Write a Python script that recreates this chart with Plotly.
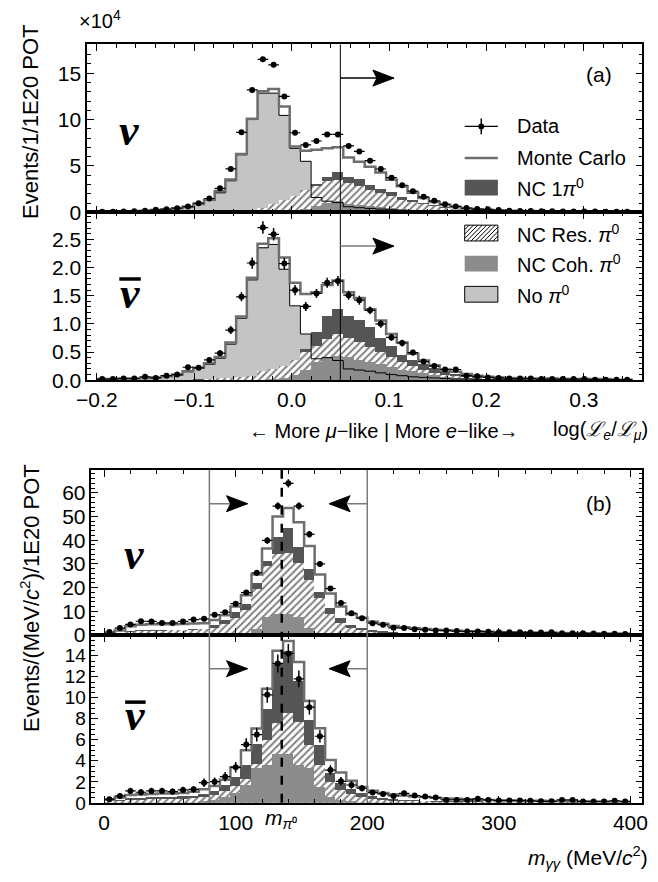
import numpy as np
import plotly.graph_objects as go

W, H = 658, 882
FONT = "Liberation Sans, Arial, sans-serif"
SERIF = "Liberation Serif, Times New Roman, serif"

# ---------------- binning ----------------
A_LO, A_HI, A_NBINS = -0.2, 0.35, 50      # log(Le/Lmu)
B_LO, B_HI, B_NBINS = 0.0, 400.0, 50      # m_gg (MeV/c^2)

# ---------------- panel (a) : neutrino (units of 1e4) ----------------
a_nu_data = [0.05,0.07,0.09,0.12,0.18,0.27,0.33,0.45,0.62,0.99,
             1.49,2.59,4.68,8.62,13.2,16.5,15.9,12.5,8.58,7.27,
             7.69,8.4,8.4,7.16,6.56,5.57,4.67,3.74,2.92,2.28,
             1.67,1.24,0.88,0.64,0.46,0.35,0.32,0.25,0.18,0.15,
             0.14,0.12,0.11,0.1,0.1,0.09,0.08,0.07,0.07,0.06]
a_nu_err = [0.01,0.01,0.01,0.01,0.02,0.02,0.02,0.02,0.03,0.03,
            0.04,0.05,0.06,0.08,0.1,0.11,0.11,0.1,0.08,0.08,
            0.08,0.08,0.08,0.08,0.07,0.07,0.06,0.06,0.05,0.05,
            0.04,0.04,0.03,0.03,0.02,0.02,0.02,0.02,0.02,0.01,
            0.01,0.01,0.01,0.01,0.01,0.01,0.01,0.01,0.01,0.01]
a_nu_mc = [0.05,0.07,0.09,0.12,0.18,0.26,0.34,0.45,0.6,0.9,
           1.35,2.3,3.55,6.28,10.1,13.05,13.3,11.4,7.09,6.63,
           6.74,6.9,7.02,5.9,5.45,4.9,4.3,3.5,2.8,2.12,
           1.55,1.1,0.8,0.58,0.42,0.32,0.26,0.2,0.17,0.15,
           0.13,0.12,0.11,0.1,0.1,0.09,0.08,0.07,0.07,0.06]
a_nu_nopi0 = [0.05,0.07,0.09,0.12,0.17,0.25,0.32,0.42,0.55,0.85,
              1.3,2.1,3.4,6.2,10.0,12.85,12.85,10.45,6.9,5.5,
              1.6,1.2,1.05,0.6,0.5,0.42,0.35,0.28,0.22,0.17,
              0.13,0.1,0.08,0.06,0.05,0.04,0.03,0.03,0.02,0.02,
              0.02,0.02,0.01,0.01,0.01,0.01,0.01,0.01,0.01,0.01]
a_nu_nc1pi0 = [0,0,0,0,0,0,0,0.01,0.02,0.03,
               0.05,0.07,0.1,0.13,0.18,0.25,0.53,0.89,1.31,2.13,
               3.01,3.8,4.3,3.8,3.55,2.9,2.5,2.1,1.63,1.24,
               0.96,0.71,0.53,0.36,0.25,0.18,0.12,0.08,0.06,0.05,
               0.04,0.03,0.02,0.02,0.01,0.01,0.01,0.01,0.01,0.01]
a_nu_ncres = [0,0,0,0,0,0,0,0,0.01,0.02,
              0.03,0.05,0.08,0.18,0.25,0.46,0.89,1.24,1.67,2.38,
              2.84,3.3,3.44,3.1,2.75,2.35,2.0,1.68,1.3,1.03,
              0.85,0.6,0.43,0.28,0.18,0.12,0.08,0.06,0.04,0.03,
              0.02,0.02,0.01,0.01,0.01,0,0,0,0,0]
a_nu_nccoh = [0,0,0,0,0,0,0,0,0,0,
              0,0,0,0,0,0,0,0.05,0.1,0.3,
              0.6,1.0,1.2,0.9,0.75,0.6,0.48,0.38,0.3,0.22,
              0.16,0.12,0.08,0.05,0.03,0.02,0.01,0.01,0.01,0,
              0,0,0,0,0,0,0,0,0,0]

# ---------------- panel (a) : antineutrino (units of 1e4) ----------------
a_nb_data = [0.02,0.02,0.03,0.03,0.06,0.04,0.08,0.1,0.23,0.22,
             0.36,0.48,0.89,1.48,2.08,2.71,2.59,2.07,1.6,1.31,
             1.54,1.73,1.76,1.51,1.42,1.24,1.0,0.76,0.66,0.49,
             0.33,0.25,0.19,0.19,0.08,0.07,0.05,0.04,0.03,0.03,
             0.03,0.02,0.02,0.02,0.02,0.02,0.01,0.01,0.01,0.01]
a_nb_err = [0.02,0.02,0.02,0.02,0.02,0.02,0.02,0.02,0.03,0.03,
            0.04,0.05,0.07,0.08,0.1,0.11,0.11,0.1,0.09,0.08,
            0.08,0.09,0.09,0.08,0.08,0.07,0.07,0.06,0.06,0.05,
            0.04,0.04,0.03,0.03,0.02,0.02,0.02,0.02,0.02,0.02,
            0.02,0.02,0.02,0.02,0.02,0.02,0.01,0.01,0.01,0.01]
a_nb_mc = [0.02,0.02,0.03,0.03,0.04,0.05,0.07,0.1,0.16,0.22,
           0.3,0.41,0.67,1.13,1.82,2.42,2.52,2.18,1.73,1.53,
           1.56,1.69,1.77,1.56,1.46,1.26,1.06,0.82,0.67,0.47,
           0.35,0.26,0.19,0.15,0.11,0.08,0.06,0.05,0.04,0.04,
           0.03,0.03,0.03,0.02,0.02,0.02,0.02,0.02,0.01,0.01]
a_nb_nopi0 = [0.02,0.02,0.03,0.03,0.04,0.05,0.07,0.09,0.15,0.21,
              0.28,0.39,0.64,1.1,1.78,2.35,2.41,1.97,1.32,0.82,
              0.38,0.4,0.35,0.2,0.18,0.16,0.13,0.1,0.08,0.06,
              0.05,0.04,0.03,0.02,0.02,0.01,0.01,0.01,0.01,0.01,
              0.01,0.01,0.01,0.01,0.01,0.01,0.01,0.01,0.01,0.01]
a_nb_nc1pi0 = [0,0,0,0,0,0,0,0,0,0.01,
               0.01,0.01,0.02,0.02,0.03,0.05,0.1,0.2,0.33,0.55,
               0.85,1.13,1.26,1.14,1.07,0.93,0.75,0.6,0.44,0.35,
               0.28,0.21,0.15,0.11,0.08,0.06,0.04,0.03,0.02,0.02,
               0.01,0.01,0.01,0.01,0.01,0.01,0,0,0,0]
a_nb_ncres = [0,0,0,0,0,0,0,0,0,0,
              0.01,0.02,0.03,0.05,0.07,0.15,0.2,0.25,0.36,0.5,
              0.6,0.73,0.81,0.75,0.68,0.59,0.5,0.41,0.32,0.24,
              0.18,0.13,0.09,0.07,0.05,0.04,0.03,0.02,0.01,0.01,
              0.01,0,0,0,0,0,0,0,0,0]
a_nb_nccoh = [0,0,0,0,0,0,0,0,0,0,
              0,0,0,0,0,0,0.01,0.03,0.08,0.18,
              0.32,0.4,0.42,0.41,0.36,0.32,0.28,0.22,0.18,0.15,
              0.12,0.09,0.06,0.04,0.03,0.02,0.01,0.01,0,0,
              0,0,0,0,0,0,0,0,0,0]

# ---------------- panel (b) : neutrino ----------------
b_nu_data = [1.25,2.9,4.44,5.8,5.7,5.1,5.1,5.7,6.5,6.8,
             8.5,9.6,13.2,17.9,26.25,39.9,54.4,64.0,54.4,42.5,
             30.0,19.6,13.5,9.2,7.1,5.0,4.3,3.0,2.9,2.4,
             2.2,1.9,1.9,1.65,1.5,1.5,1.4,1.1,1.1,1.1,
             1.0,1.0,1.1,0.7,0.7,0.7,0.6,0.5,0.5,0.4]
b_nu_err = [0.3,0.4,0.5,0.55,0.55,0.5,0.5,0.55,0.6,0.6,
            0.65,0.7,0.8,0.95,1.15,1.4,1.6,1.75,1.6,1.45,
            1.2,1.0,0.8,0.65,0.6,0.5,0.45,0.4,0.4,0.35,
            0.35,0.3,0.3,0.3,0.3,0.3,0.25,0.25,0.25,0.25,
            0.25,0.25,0.25,0.2,0.2,0.2,0.2,0.15,0.15,0.15]
b_nu_mc = [0.6,1.9,3.7,4.3,4.5,4.5,4.5,4.6,4.8,5.0,
           6.3,8.3,12.0,16.8,25.5,36.5,50.0,53.6,47.6,37.5,
           25.5,17.5,12.0,8.7,7.3,5.6,4.7,3.8,3.3,2.8,
           2.5,2.2,2.0,1.8,1.6,1.5,1.35,1.25,1.15,1.05,
           1.0,0.95,0.9,0.85,0.8,0.75,0.7,0.65,0.6,0.55]
b_nu_nc1pi0 = [0.4,1.0,1.6,1.9,2.0,2.0,2.1,2.2,2.4,2.6,
               4.0,6.5,9.5,13.0,22.0,31.0,41.5,45.0,37.0,28.0,
               18.0,11.5,7.0,4.2,3.0,2.2,1.6,1.2,0.9,0.7,
               0.6,0.5,0.45,0.4,0.35,0.3,0.28,0.25,0.22,0.2,
               0.18,0.16,0.15,0.14,0.13,0.12,0.11,0.1,0.1,0.1]
b_nu_ncres = [0.4,0.9,1.4,1.7,1.8,1.8,1.9,2.0,2.1,2.3,
              3.0,4.6,7.0,10.5,19.5,29.0,34.0,34.6,30.5,23.0,
              15.5,9.0,5.0,3.0,2.0,1.4,1.0,0.7,0.5,0.4,
              0.3,0.25,0.2,0.15,0.12,0.1,0.08,0.06,0.05,0.05,
              0.04,0.04,0.03,0.03,0.03,0.02,0.02,0.02,0.02,0.02]
b_nu_nccoh = [0,0,0,0,0,0,0,0,0,0,
              0.1,0.2,0.5,1.0,2.7,7.5,9.0,9.0,7.5,3.0,
              1.0,0.5,0.2,0.1,0,0,0,0,0,0,
              0,0,0,0,0,0,0,0,0,0,
              0,0,0,0,0,0,0,0,0,0]

# ---------------- panel (b) : antineutrino ----------------
b_nb_data = [0.35,0.66,1.14,1.01,1.14,1.14,1.07,1.23,1.29,1.92,
             2.02,2.49,3.38,5.55,6.5,10.28,13.27,14.22,11.8,9.11,
             6.34,3.12,2.05,1.7,1.39,0.98,0.85,0.66,0.91,0.7,
             0.6,0.5,0.28,0.28,0.28,0.38,0.28,0.22,0.22,0.22,
             0.19,0.15,0.15,0.28,0.28,0.13,0.13,0.13,0.2,0.13]
b_nb_err = [0.2,0.25,0.3,0.3,0.3,0.3,0.3,0.3,0.3,0.4,
            0.4,0.45,0.5,0.6,0.65,0.75,0.85,0.9,0.8,0.7,
            0.6,0.45,0.4,0.35,0.3,0.25,0.25,0.22,0.25,0.22,
            0.2,0.18,0.15,0.15,0.15,0.16,0.15,0.13,0.13,0.13,
            0.12,0.11,0.11,0.15,0.15,0.1,0.1,0.1,0.12,0.1]
b_nb_mc = [0.3,0.5,0.75,0.8,0.85,0.9,0.9,0.95,1.05,1.3,
           1.6,2.2,3.4,5.0,7.07,10.85,14.47,15.4,13.4,9.7,
           7.1,4.07,2.9,2.1,1.5,1.15,0.95,0.8,0.7,0.6,
           0.55,0.48,0.42,0.38,0.34,0.3,0.28,0.26,0.24,0.22,
           0.2,0.19,0.18,0.17,0.16,0.15,0.14,0.13,0.12,0.11]
b_nb_nc1pi0 = [0.15,0.3,0.45,0.5,0.55,0.55,0.6,0.65,0.7,0.85,
               1.1,1.7,2.5,3.6,5.65,8.96,13.2,14.5,11.6,7.9,
               5.5,2.8,1.9,1.3,0.9,0.65,0.5,0.4,0.32,0.26,
               0.22,0.18,0.15,0.12,0.1,0.09,0.08,0.07,0.06,0.05,
               0.05,0.05,0.04,0.04,0.04,0.04,0.03,0.03,0.03,0.03]
b_nb_ncres = [0.1,0.2,0.3,0.3,0.35,0.35,0.4,0.4,0.45,0.55,
              0.75,1.1,1.6,2.3,3.7,6.0,7.6,8.6,7.7,5.5,
              3.6,2.0,1.2,0.8,0.55,0.4,0.3,0.22,0.17,0.13,
              0.1,0.08,0.07,0.06,0.05,0.04,0.03,0.03,0.02,0.02,
              0.02,0.02,0.02,0.02,0.02,0.01,0.01,0.01,0.01,0.01]
b_nb_nccoh = [0,0,0,0,0,0,0,0,0,0.15,
              0.3,0.6,0.9,1.7,3.3,3.6,4.7,4.7,3.6,3.3,
              1.5,0.6,0.3,0.15,0,0,0,0,0,0,
              0,0,0,0,0,0,0,0,0,0,
              0,0,0,0,0,0,0,0,0,0]

# ---------------- colours ----------------
C_LIGHT = "#c4c4c4"
C_DARK = "#555555"
C_MED = "#8c8c8c"
C_MC = "#6e6e6e"

a_edges = np.linspace(A_LO, A_HI, A_NBINS + 1)
a_cent = 0.5 * (a_edges[:-1] + a_edges[1:])
a_w = (A_HI - A_LO) / A_NBINS
b_edges = np.linspace(B_LO, B_HI, B_NBINS + 1)
b_cent = 0.5 * (b_edges[:-1] + b_edges[1:])
b_w = (B_HI - B_LO) / B_NBINS

fig = go.Figure()


def step_xy(edges, vals):
    return list(edges), list(vals) + [vals[-1]]


def add_panel(xa, ya, edges, cent, w, data, err, mc, nopi0, nc1, ncres, nccoh):
    common = dict(xaxis=xa, yaxis=ya, showlegend=False, hoverinfo="skip")
    if nopi0 is not None:
        fig.add_trace(go.Bar(x=cent, y=nopi0, width=w, opacity=1,
                             marker=dict(color=C_LIGHT, line=dict(width=0)), **common))
    fig.add_trace(go.Bar(x=cent, y=nc1, width=w, opacity=1,
                         marker=dict(color=C_DARK, line=dict(width=0)), **common))
    fig.add_trace(go.Bar(x=cent, y=ncres, width=w, opacity=1,
                         marker=dict(color="white", line=dict(width=0),
                                     pattern=dict(shape="/", fgcolor="black", bgcolor="white",
                                                  size=5, solidity=0.4)), **common))
    fig.add_trace(go.Bar(x=cent, y=nccoh, width=w, opacity=1,
                         marker=dict(color=C_MED, line=dict(width=0)), **common))
    if nopi0 is not None:
        sx, sy = step_xy(edges, nopi0)
        fig.add_trace(go.Scatter(x=sx, y=sy, mode="lines", line=dict(color="black", width=1, shape="hv"),
                                 **common))
    sx, sy = step_xy(edges, mc)
    fig.add_trace(go.Scatter(x=sx, y=sy, mode="lines", line=dict(color=C_MC, width=2.5, shape="hv"),
                             **common))
    fig.add_trace(go.Scatter(x=cent, y=data, mode="markers",
                             marker=dict(color="black", size=6),
                             error_x=dict(type="constant", value=w / 2, width=0, thickness=1.2, color="black"),
                             error_y=dict(type="data", array=err, width=0, thickness=1.5, color="black"),
                             **common))


add_panel("x", "y", a_edges, a_cent, a_w, a_nu_data, a_nu_err, a_nu_mc, a_nu_nopi0,
          a_nu_nc1pi0, a_nu_ncres, a_nu_nccoh)
add_panel("x2", "y2", a_edges, a_cent, a_w, a_nb_data, a_nb_err, a_nb_mc, a_nb_nopi0,
          a_nb_nc1pi0, a_nb_ncres, a_nb_nccoh)
add_panel("x3", "y3", b_edges, b_cent, b_w, b_nu_data, b_nu_err, b_nu_mc, None,
          b_nu_nc1pi0, b_nu_ncres, b_nu_nccoh)
add_panel("x4", "y4", b_edges, b_cent, b_w, b_nb_data, b_nb_err, b_nb_mc, None,
          b_nb_nc1pi0, b_nb_ncres, b_nb_nccoh)


def fx(px):
    return px / W


def fy(py):
    return 1 - py / H


AX = dict(showline=True, linecolor="black", linewidth=1.5, mirror="allticks", ticks="inside",
          ticklen=7, tickwidth=1.2, tickcolor="black", showgrid=False, zeroline=False,
          tickfont=dict(family=FONT, size=21, color="black"))
MINOR = dict(ticks="inside", ticklen=4, tickcolor="black")

a_xdom = [fx(78), fx(647)]
b_xdom = [fx(82.5), fx(647)]
a_xrange = [-0.21, 0.36]
b_xrange = [-9.6, 409]

fig.update_layout(
    width=W, height=H, margin=dict(l=0, r=0, t=0, b=0),
    paper_bgcolor="white", plot_bgcolor="white",
    barmode="overlay", bargap=0, showlegend=False,
    xaxis=dict(AX, domain=a_xdom, range=a_xrange, anchor="y", showticklabels=False,
               dtick=0.1, tick0=0, minor=dict(MINOR, dtick=0.02)),
    yaxis=dict(AX, domain=[fy(215), fy(45)], range=[0, 18.1], anchor="x", dtick=5,
               minor=dict(MINOR, dtick=1)),
    xaxis2=dict(AX, domain=a_xdom, range=a_xrange, anchor="y2", dtick=0.1, tick0=0, tickformat=".1f",
                minor=dict(MINOR, dtick=0.02)),
    yaxis2=dict(AX, domain=[fy(385), fy(215)], range=[0, 2.98], anchor="x2", dtick=0.5, tickformat=".1f",
                minor=dict(MINOR, dtick=0.1)),
    xaxis3=dict(AX, domain=b_xdom, range=b_xrange, anchor="y3", showticklabels=False, dtick=100, tick0=0,
                minor=dict(MINOR, dtick=20)),
    yaxis3=dict(AX, domain=[fy(643), fy(476)], range=[0, 69.6], anchor="x3", dtick=10,
                minor=dict(MINOR, dtick=2)),
    xaxis4=dict(AX, domain=b_xdom, range=b_xrange, anchor="y4", dtick=100, tick0=0,
                minor=dict(MINOR, dtick=20)),
    yaxis4=dict(AX, domain=[fy(813), fy(643)], range=[0, 15.98], anchor="x4", dtick=2,
                tickfont=dict(family=FONT, size=19, color="black"),
                minor=dict(MINOR, dtick=0.5)),
)

shapes = []
annots = []

# --- selection cut lines ---
A_CUT = 0.05
B_CUT_LO, B_CUT_HI, M_PI0 = 80, 200, 135
shapes.append(dict(type="line", xref="x", yref="paper", x0=A_CUT, x1=A_CUT, y0=fy(385), y1=fy(45),
                   line=dict(color="black", width=1)))
for xc in (B_CUT_LO, B_CUT_HI):
    shapes.append(dict(type="line", xref="x3", yref="paper", x0=xc, x1=xc, y0=fy(813), y1=fy(476),
                       line=dict(color="#7a7a7a", width=1.5)))
shapes.append(dict(type="line", xref="x3", yref="paper", x0=M_PI0, x1=M_PI0, y0=fy(813), y1=fy(476),
                   line=dict(color="black", width=2.5, dash="dash")))


def arrow(xref, yref, x0, x1, y, shaft_color):
    shapes.append(dict(type="line", xref=xref, yref=yref, x0=x0, x1=x1, y0=y, y1=y,
                       line=dict(color=shaft_color, width=1.5)))
    s = 1 if x1 > x0 else -1
    head = "M0,0 L{a},8 L{b},0 L{a},-8 Z".format(a=-21 * s, b=-17 * s)
    shapes.append(dict(type="path", xref=xref, yref=yref, xsizemode="pixel", ysizemode="pixel",
                       xanchor=x1, yanchor=y, path=head, fillcolor="black",
                       line=dict(color="black", width=1)))


arrow("x", "y", A_CUT, 0.105, 14.47, "black")
arrow("x2", "y2", A_CUT, 0.105, 2.38, "#7a7a7a")
arrow("x3", "y3", B_CUT_LO, 109, 55.4, "#7a7a7a")
arrow("x3", "y3", B_CUT_HI, 171, 55.4, "#7a7a7a")
arrow("x4", "y4", B_CUT_LO, 109, 12.77, "#7a7a7a")
arrow("x4", "y4", B_CUT_HI, 171, 12.77, "#7a7a7a")


def text(px, py, s, size=21, xanchor="center", family=FONT, angle=0):
    annots.append(dict(xref="paper", yref="paper", x=fx(px), y=fy(py), text=s, showarrow=False,
                       xanchor=xanchor, yanchor="middle", textangle=angle,
                       font=dict(family=family, size=size, color="black")))


text(603, 75, "(a)")
text(603, 510, "(b)")
text(91, 20, "×10<sup>4</sup>", size=20)
text(20, 124, "Events/1/1E20 POT", size=22, angle=-90)
text(20, 606, "Events/(MeV/<i>c</i><sup>2</sup>)/1E20 POT", size=22, angle=-90)
text(382, 436, "← More <i>μ</i>−like | More <i>e</i>−like→", size=20)
text(655, 436, "log(<i>ℒ</i><sub><i>e</i></sub>/<i>ℒ</i><sub><i>μ</i></sub>)", size=20, xanchor="right")
text(655, 868, "<i>m</i><sub><i>γγ</i></sub> (MeV/<i>c</i><sup>2</sup>)", size=21, xanchor="right")
text(277, 829, "<i>m</i><sub><i>π</i>⁰</sub>", size=21)

# neutrino / antineutrino labels
NU = "<b><i>ν</i></b>"
text(121, 132, NU, size=44, family=SERIF)
text(122, 297, NU, size=44, family=SERIF)
text(126, 562, NU, size=44, family=SERIF)
text(127, 725, NU, size=44, family=SERIF)
for (x0, x1, yb) in ((111, 133, 282.5), (117, 138, 711)):
    shapes.append(dict(type="line", xref="paper", yref="paper", x0=fx(x0), x1=fx(x1), y0=fy(yb), y1=fy(yb),
                       line=dict(color="black", width=3.5)))

# --- legend (drawn manually) ---
LX0, LX1, LTX = 465, 499, 517
rows = {"data": 128, "mc": 160, "nc1": 190, "res": 236, "coh": 267, "nopi": 298}
shapes.append(dict(type="line", xref="paper", yref="paper", x0=fx(LX0), x1=fx(LX1), y0=fy(rows["data"]),
                   y1=fy(rows["data"]), line=dict(color="black", width=1.2)))
shapes.append(dict(type="line", xref="paper", yref="paper", x0=fx(482), x1=fx(482), y0=fy(rows["data"] - 8),
                   y1=fy(rows["data"] + 8), line=dict(color="black", width=1.5)))
shapes.append(dict(type="circle", xref="paper", yref="paper", x0=fx(479), x1=fx(485), y0=fy(rows["data"] - 3),
                   y1=fy(rows["data"] + 3), fillcolor="black", line=dict(width=0)))
shapes.append(dict(type="line", xref="paper", yref="paper", x0=fx(LX0), x1=fx(LX1), y0=fy(rows["mc"]),
                   y1=fy(rows["mc"]), line=dict(color=C_MC, width=2.5)))


def box(yc, fill, border):
    shapes.append(dict(type="rect", xref="paper", yref="paper", x0=fx(LX0), x1=fx(LX1), y0=fy(yc + 8),
                       y1=fy(yc - 8), fillcolor=fill,
                       line=dict(color="black", width=1) if border else dict(width=0)))


box(rows["nc1"], C_DARK, False)
box(rows["res"], "white", True)
# hatch for the legend box
yb, yt = rows["res"] + 8, rows["res"] - 8
hh = yb - yt
xs = LX0 - hh
while xs < LX1:
    t0, t1 = max(0, LX0 - xs), min(hh, LX1 - xs)
    if t1 > t0:
        shapes.append(dict(type="line", xref="paper", yref="paper", x0=fx(xs + t0), y0=fy(yb - t0),
                           x1=fx(xs + t1), y1=fy(yb - t1), line=dict(color="black", width=1)))
    xs += 4.5
box(rows["coh"], C_MED, False)
box(rows["nopi"], C_LIGHT, True)

text(LTX, rows["data"], "Data", size=20, xanchor="left")
text(LTX, rows["mc"], "Monte Carlo", size=20, xanchor="left")
text(LTX, rows["nc1"], "NC 1<i>π</i><sup>0</sup>", size=20, xanchor="left")
text(LTX, rows["res"], "NC Res. <i>π</i><sup>0</sup>", size=20, xanchor="left")
text(LTX, rows["coh"], "NC Coh. <i>π</i><sup>0</sup>", size=20, xanchor="left")
text(LTX, rows["nopi"], "No <i>π</i><sup>0</sup>", size=20, xanchor="left")

fig.update_layout(shapes=shapes, annotations=annots)
fig.write_html("out.html")
